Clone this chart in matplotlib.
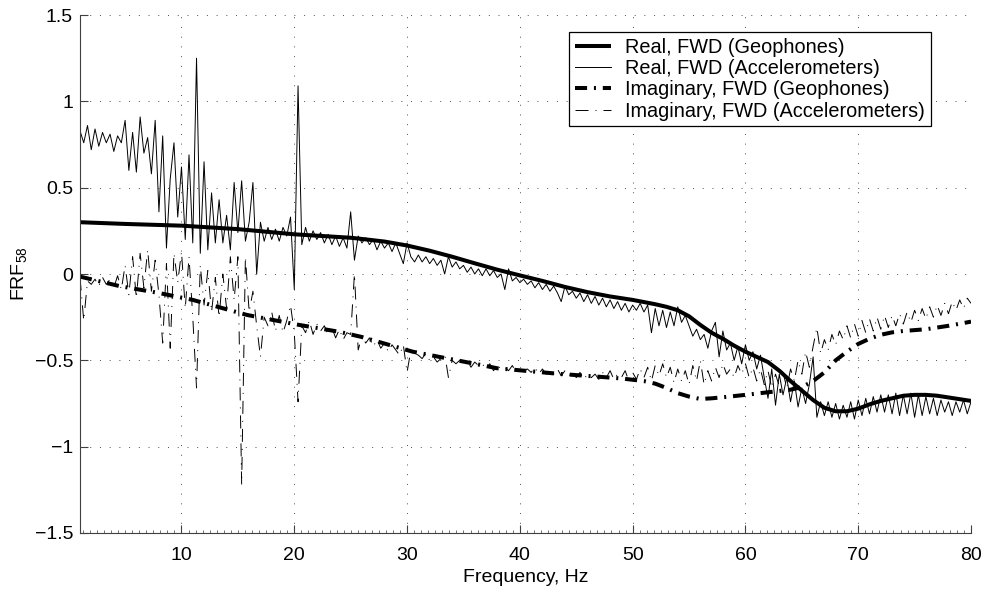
import numpy as np
import matplotlib
matplotlib.use("Agg")
import matplotlib.pyplot as plt
from matplotlib.ticker import MultipleLocator, FixedLocator

plt.rcParams['font.family'] = ['Liberation Sans', 'DejaVu Sans']
plt.rcParams['mathtext.fontset'] = 'custom'
plt.rcParams['mathtext.rm'] = 'Liberation Sans'
plt.rcParams['mathtext.it'] = 'Liberation Sans:italic'

# ---------------- data ----------------
# Real part, FWD, geophones (smooth)
real_geo_f = [1, 5, 10, 15, 20, 22.5, 25, 26, 28, 30, 32, 34, 36, 38, 40, 42, 44, 46,
              48, 50, 52, 53, 54, 55, 56, 57, 58, 59, 60, 61, 62, 63, 64, 65, 66,
              67, 68, 69, 70, 71, 72, 73, 74, 75, 76, 77, 78, 79, 80]
real_geo = [0.30, 0.29, 0.28, 0.26, 0.23, 0.22, 0.21, 0.203, 0.188, 0.165, 0.135,
            0.10, 0.062, 0.025, -0.008, -0.04, -0.075, -0.105, -0.13, -0.15, -0.175,
            -0.19, -0.21, -0.245, -0.295, -0.34, -0.375, -0.415, -0.45, -0.48,
            -0.51, -0.56, -0.62, -0.675, -0.73, -0.775, -0.795, -0.795, -0.78,
            -0.755, -0.735, -0.72, -0.705, -0.70, -0.70, -0.705, -0.715, -0.725,
            -0.735]

# Imaginary part, FWD, geophones (smooth)
imag_geo_f = [1, 4.5, 8, 11, 15.8, 20, 24, 26, 30.5, 36, 38, 43.6, 47, 49, 51, 52,
              53, 54, 55, 56, 57, 58, 60, 62, 64, 65, 66, 67, 68, 69, 70, 71, 72,
              73, 74, 76, 78, 80]
imag_geo = [-0.015, -0.07, -0.11, -0.15, -0.237, -0.29, -0.335, -0.365, -0.45,
            -0.52, -0.546, -0.579, -0.595, -0.605, -0.62, -0.635, -0.66, -0.69,
            -0.71, -0.724, -0.72, -0.714, -0.70, -0.685, -0.67, -0.655, -0.62,
            -0.57, -0.50, -0.45, -0.405, -0.375, -0.352, -0.338, -0.33, -0.32,
            -0.30, -0.276]

# Real part, FWD, accelerometers (noisy), evenly sampled from 1 to 80 Hz
real_acc = [
    0.83, 0.76, 0.86, 0.72, 0.84, 0.74,
    0.82, 0.76, 0.81, 0.71, 0.80, 0.76,
    0.89, 0.60, 0.82, 0.59, 0.91, 0.70,
    0.79, 0.58, 0.89, 0.36, 0.80, 0.15,
    0.55, 0.76, 0.33, 0.62, 0.20, 0.69,
    0.18, 1.25, 0.12, 0.65, 0.14, 0.47,
    0.18, 0.43, 0.18, 0.34, 0.14, 0.53,
    0.24, 0.54, 0.19, 0.30, 0.53, 0.00,
    0.30, 0.19, 0.27, 0.20, 0.26, 0.19,
    0.27, 0.22, 0.33, -0.09, 1.09, 0.17,
    0.27, 0.19, 0.25, 0.20, 0.24, 0.18,
    0.23, 0.17, 0.22, 0.16, 0.21, 0.15,
    0.36, 0.08, 0.22, 0.18, 0.21, 0.17,
    0.20, 0.14, 0.19, 0.15, 0.18, 0.13,
    0.18, 0.12, 0.06, 0.18, 0.10, 0.07,
    0.11, 0.07, 0.10, 0.06, 0.09, 0.05,
    0.08, 0.00, 0.10, 0.04, 0.07, 0.03,
    0.05, 0.01, 0.04, 0.00, 0.03, -0.01,
    0.03, -0.01, 0.02, -0.02, 0.00, -0.09,
    0.03, -0.04, -0.02, -0.05, -0.03, -0.06,
    -0.04, -0.08, -0.05, -0.09, -0.06, -0.10,
    -0.07, -0.11, -0.16, -0.07, -0.12, -0.10,
    -0.14, -0.11, -0.16, -0.12, -0.17, -0.13,
    -0.18, -0.14, -0.19, -0.15, -0.20, -0.16,
    -0.21, -0.17, -0.22, -0.18, -0.21, -0.17,
    -0.22, -0.18, -0.34, -0.20, -0.30, -0.21,
    -0.31, -0.22, -0.30, -0.19, -0.28, -0.24,
    -0.30, -0.36, -0.32, -0.38, -0.35, -0.43,
    -0.33, -0.28, -0.48, -0.33, -0.44, -0.40,
    -0.50, -0.42, -0.52, -0.41, -0.50, -0.45,
    -0.55, -0.47, -0.60, -0.72, -0.55, -0.76,
    -0.58, -0.70, -0.60, -0.74, -0.62, -0.77,
    -0.66, -0.75, -0.64, -0.48, -0.83, -0.74,
    -0.82, -0.74, -0.83, -0.75, -0.84, -0.76,
    -0.83, -0.74, -0.84, -0.73, -0.82, -0.72,
    -0.81, -0.71, -0.80, -0.70, -0.80, -0.70,
    -0.81, -0.69, -0.82, -0.70, -0.81, -0.69,
    -0.83, -0.70, -0.82, -0.71, -0.81, -0.72,
    -0.82, -0.73, -0.80, -0.74, -0.82, -0.74,
    -0.80, -0.73, -0.81, -0.74,
]

# Imaginary part, FWD, accelerometers (noisy), same sampling
imag_acc = [
    -0.02, -0.27, -0.04, -0.06, -0.03, -0.07,
    -0.02, -0.06, -0.03, -0.08, -0.01, -0.09,
    0.05, -0.12, 0.10, -0.14, 0.12, -0.08,
    0.14, -0.10, 0.08, -0.12, -0.40, 0.06,
    -0.43, 0.12, -0.05, 0.13, -0.20, 0.10,
    -0.25, -0.66, 0.05, -0.18, 0.02, -0.22,
    -0.02, -0.25, 0.00, -0.20, 0.10, -0.15,
    0.10, -1.22, 0.10, -0.22, -0.10, -0.30,
    -0.48, -0.25, -0.30, -0.22, -0.33, -0.24,
    -0.34, -0.27, -0.18, -0.34, -0.74, -0.30,
    -0.34, -0.27, -0.35, -0.29, -0.33, -0.30,
    -0.35, -0.31, -0.37, -0.32, -0.38, -0.34,
    -0.35, 0.00, -0.44, -0.36, -0.40, -0.37,
    -0.42, -0.38, -0.43, -0.40, -0.45, -0.41,
    -0.44, -0.47, -0.41, -0.57, -0.44, -0.46,
    -0.47, -0.49, -0.46, -0.50, -0.48, -0.51,
    -0.49, -0.46, -0.60, -0.50, -0.52, -0.50,
    -0.52, -0.50, -0.54, -0.51, -0.53, -0.52,
    -0.55, -0.52, -0.56, -0.53, -0.55, -0.54,
    -0.56, -0.53, -0.57, -0.54, -0.56, -0.55,
    -0.57, -0.54, -0.58, -0.55, -0.58, -0.56,
    -0.58, -0.55, -0.59, -0.56, -0.59, -0.57,
    -0.60, -0.57, -0.61, -0.58, -0.60, -0.58,
    -0.61, -0.57, -0.60, -0.56, -0.61, -0.58,
    -0.60, -0.56, -0.62, -0.57, -0.61, -0.55,
    -0.60, -0.54, -0.62, -0.53, -0.59, -0.52,
    -0.60, -0.54, -0.63, -0.55, -0.62, -0.56,
    -0.64, -0.53, -0.62, -0.50, -0.64, -0.56,
    -0.62, -0.54, -0.60, -0.52, -0.58, -0.55,
    -0.60, -0.53, -0.58, -0.52, -0.60, -0.54,
    -0.62, -0.55, -0.64, -0.56, -0.66, -0.58,
    -0.65, -0.57, -0.66, -0.55, -0.62, -0.50,
    -0.58, -0.45, -0.54, -0.42, -0.31, -0.46,
    -0.38, -0.44, -0.35, -0.41, -0.33, -0.38,
    -0.30, -0.37, -0.29, -0.36, -0.27, -0.34,
    -0.26, -0.33, -0.25, -0.32, -0.24, -0.31,
    -0.24, -0.30, -0.23, -0.29, -0.22, -0.28,
    -0.21, -0.27, -0.20, -0.26, -0.19, -0.25,
    -0.18, -0.24, -0.17, -0.23, -0.16, -0.21,
    -0.15, -0.20, -0.14, -0.17,
]

labels = ["Real, FWD (Geophones)", "Real, FWD (Accelerometers)",
          "Imaginary, FWD (Geophones)", "Imaginary, FWD (Accelerometers)"]
x_ticks = [10, 20, 30, 40, 50, 60, 70, 80]
y_ticks = [-1.5, -1, -0.5, 0, 0.5, 1, 1.5]
y_ticklabels = ["\u22121.5", "\u22121", "\u22120.5", "0", "0.5", "1", "1.5"]

f_acc_real = np.linspace(1, 80, len(real_acc))
f_acc_imag = np.linspace(1, 80, len(imag_acc))

FS = 14

# ---------------- figure ----------------
fig = plt.figure(figsize=(9.85, 5.89), dpi=100)
ax = fig.add_axes([0.0812, 0.0951, 0.9046, 0.8794])

ax.plot(real_geo_f, real_geo, color='black', lw=2.9, solid_capstyle='butt',
        solid_joinstyle='round', label=labels[0])
ax.plot(f_acc_real, real_acc, color='black', lw=0.7, label=labels[1])
ax.plot(imag_geo_f, imag_geo, color='black', lw=2.9,
        linestyle=(0, (3.0, 1.7, 0.5, 1.7)), dash_capstyle='butt',
        dash_joinstyle='round', label=labels[2])
ax.plot(f_acc_imag, imag_acc, color='black', lw=0.7,
        linestyle=(0, (13.4, 7.2, 1.0, 7.2)), label=labels[3])

ax.set_xlim(1, 80)
ax.set_ylim(-1.5, 1.5)
ax.xaxis.set_major_locator(FixedLocator(x_ticks))
ax.xaxis.set_minor_locator(MultipleLocator(0.625))
ax.set_yticks(y_ticks)
ax.set_yticklabels(y_ticklabels)

for s in ['top', 'right']:
    ax.spines[s].set_visible(False)
for s in ['left', 'bottom']:
    ax.spines[s].set_linewidth(0.8)
    ax.spines[s].set_color('0.25')

ax.tick_params(axis='both', which='major', direction='in', length=6, width=0.8,
               color='0.25', labelsize=FS)
ax.tick_params(axis='x', which='major', pad=10)
ax.tick_params(axis='y', which='major', pad=5)
ax.tick_params(axis='x', which='minor', direction='in', length=2.5, width=0.6,
               color='0.35')
ax.tick_params(axis='y', which='minor', left=False)

ax.grid(True, which='major', color='0.3', linestyle=(0, (1, 9)), linewidth=0.7)
ax.set_axisbelow(True)

ax.set_xlabel("Frequency, Hz", fontsize=FS, labelpad=4)
ax.set_ylabel("FRF$_{58}$", fontsize=FS, labelpad=4)

leg = ax.legend(loc='upper right', bbox_to_anchor=(0.955, 0.967), borderaxespad=0,
                fontsize=14.3, frameon=True, fancybox=False, handlelength=1.8,
                handletextpad=0.75, labelspacing=0.12, borderpad=0.28)
leg.get_frame().set_edgecolor('black')
leg.get_frame().set_linewidth(0.9)
leg.get_frame().set_alpha(1)

fig.savefig("out.png", dpi=100)
